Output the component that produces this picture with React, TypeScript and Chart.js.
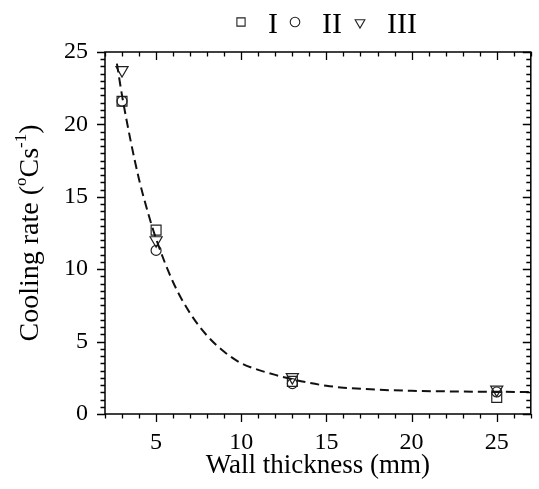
import { useEffect, useRef } from 'react';
import { Chart, registerables } from 'chart.js';

Chart.register(...registerables);

// Measured cooling rates for three castings at each wall thickness
const thicknessMm = [3, 5, 13, 25];
const rateI = [21.6, 12.7, 2.25, 1.15];
const rateII = [21.6, 11.3, 2.1, 1.52];
const rateIII = [23.75, 12.0, 2.55, 1.68];

// Fitted decay curve (dashed)
const fitThickness = [2.7, 3, 3.5, 4, 4.5, 5, 6, 7, 8, 9, 10, 11, 12, 13, 14, 15, 16, 18, 20, 23, 27];
const fitRate = [24.2, 22.0, 18.9, 16.2, 14.0, 12.1, 9.1, 6.95, 5.4, 4.3, 3.5, 3.05, 2.7, 2.4, 2.15, 1.95, 1.82, 1.68, 1.6, 1.55, 1.52];

const seriesNames = ['I', 'II', 'III'];
const xTickLabels = [5, 10, 15, 20, 25];
const yTickLabels = [0, 5, 10, 15, 20, 25];

const X_MIN = 2;
const X_MAX = 27;
const Y_MIN = 0;
const Y_MAX = 25;
const X_MINOR = 1;
const Y_MINOR = 0.5;

const SERIF = '"Liberation Serif", "Times New Roman", serif';
const MARK = '#222';

function pathMarker(ctx: CanvasRenderingContext2D, style: string, x: number, y: number, r: number) {
  ctx.beginPath();
  if (style === 'rect') {
    const s = Math.SQRT1_2 * r;
    ctx.rect(x - s, y - s, 2 * s, 2 * s);
  } else if (style === 'circle') {
    ctx.arc(x, y, r, 0, Math.PI * 2);
  } else {
    // downward triangle
    const h = r * Math.cos(Math.PI / 6);
    ctx.moveTo(x, y + r);
    ctx.lineTo(x - h, y - r / 2);
    ctx.lineTo(x + h, y - r / 2);
    ctx.closePath();
  }
  ctx.stroke();
}

const framePlugin = {
  id: 'frameTicksTitles',
  afterDraw(chart: any) {
    const { ctx, chartArea: a, scales } = chart;
    const xs = scales.x;
    const ys = scales.y;
    ctx.save();

    // plot frame
    ctx.strokeStyle = '#000';
    ctx.lineWidth = 1.5;
    ctx.strokeRect(a.left, a.top, a.right - a.left, a.bottom - a.top);

    // ticks: outward on bottom/left, inward on top/right
    ctx.lineWidth = 1.3;
    ctx.beginPath();
    const nx = Math.round((X_MAX - X_MIN) / X_MINOR);
    for (let i = 0; i <= nx; i++) {
      const v = X_MIN + i * X_MINOR;
      const px = Math.round(xs.getPixelForValue(v)) + 0.5;
      const len = v % 5 === 0 ? 8 : 4.5;
      ctx.moveTo(px, a.bottom);
      ctx.lineTo(px, a.bottom + len);
      ctx.moveTo(px, a.top);
      ctx.lineTo(px, a.top + len);
    }
    const ny = Math.round((Y_MAX - Y_MIN) / Y_MINOR);
    for (let i = 0; i <= ny; i++) {
      const v = Y_MIN + i * Y_MINOR;
      const py = Math.round(ys.getPixelForValue(v)) + 0.5;
      const len = v % 5 === 0 ? 8 : 4.5;
      ctx.moveTo(a.left - len, py);
      ctx.lineTo(a.left, py);
      ctx.moveTo(a.right - len, py);
      ctx.lineTo(a.right, py);
    }
    ctx.stroke();

    // x axis title
    ctx.fillStyle = '#000';
    ctx.font = `27px ${SERIF}`;
    ctx.textAlign = 'center';
    ctx.textBaseline = 'alphabetic';
    ctx.fillText('Wall thickness (mm)', (a.left + a.right) / 2, 473);

    // y axis title with superscripts
    const parts: [string, boolean][] = [
      ['Cooling rate (', false],
      ['o', true],
      ['Cs', false],
      ['-1', true],
      [')', false],
    ];
    const mainFont = `28px ${SERIF}`;
    const supFont = `17px ${SERIF}`;
    let total = 0;
    for (const [t, sup] of parts) {
      ctx.font = sup ? supFont : mainFont;
      total += ctx.measureText(t).width;
    }
    ctx.translate(38, (a.top + a.bottom) / 2);
    ctx.rotate(-Math.PI / 2);
    ctx.textAlign = 'left';
    let cx = -total / 2;
    for (const [t, sup] of parts) {
      ctx.font = sup ? supFont : mainFont;
      ctx.fillText(t, cx, sup ? -12 : 0);
      cx += ctx.measureText(t).width;
    }
    ctx.restore();

    // legend row
    ctx.save();
    ctx.strokeStyle = MARK;
    ctx.lineWidth = 1.1;
    ctx.fillStyle = '#000';
    ctx.font = `30px ${SERIF}`;
    ctx.textAlign = 'left';
    ctx.textBaseline = 'alphabetic';
    const styles = ['rect', 'circle', 'triangle'];
    const markX = [241, 295, 360];
    const markR = [5.8, 4.8, 5.6];
    const textX = [268, 322, 387];
    for (let i = 0; i < seriesNames.length; i++) {
      pathMarker(ctx, styles[i], markX[i], i === 2 ? 22.5 : 22, markR[i]);
      ctx.fillText(seriesNames[i], textX[i], 33);
    }
    ctx.restore();
  },
};

const toPoints = (xs: number[], ys: number[]) => xs.map((x, i) => ({ x, y: ys[i] }));

export default function App() {
  const canvasRef = useRef<HTMLCanvasElement | null>(null);

  useEffect(() => {
    const canvas = canvasRef.current;
    if (!canvas) return;
    const markerBase = {
      showLine: false,
      pointBorderColor: MARK,
      pointBackgroundColor: 'rgba(0,0,0,0)',
      pointBorderWidth: 1.2,
    };
    const chart = new Chart(canvas, {
      type: 'scatter',
      data: {
        datasets: [
          {
            label: 'fit',
            data: toPoints(fitThickness, fitRate),
            showLine: true,
            borderColor: '#111',
            borderWidth: 2,
            borderDash: [9, 5],
            pointRadius: 0,
            cubicInterpolationMode: 'monotone',
          },
          {
            ...markerBase,
            label: seriesNames[0],
            data: toPoints(thicknessMm, rateI),
            pointStyle: 'rect',
            pointRadius: 7,
          },
          {
            ...markerBase,
            label: seriesNames[1],
            data: toPoints(thicknessMm, rateII),
            pointStyle: 'circle',
            pointRadius: 5,
          },
          {
            ...markerBase,
            label: seriesNames[2],
            data: toPoints(thicknessMm, rateIII),
            pointStyle: 'triangle',
            pointRotation: 180,
            pointRadius: 7,
          },
        ] as any,
      },
      options: {
        responsive: false,
        animation: false,
        layout: { padding: { top: 52, right: 2, bottom: 0, left: 0 } },
        plugins: {
          legend: { display: false },
          tooltip: { enabled: false },
        },
        scales: {
          x: {
            type: 'linear',
            min: X_MIN,
            max: X_MAX,
            grid: { display: false },
            border: { display: false },
            afterBuildTicks: (axis: any) => {
              axis.ticks = xTickLabels.map((value) => ({ value }));
            },
            afterFit: (axis: any) => {
              axis.height = 75;
            },
            ticks: {
              autoSkip: false,
              maxRotation: 0,
              padding: 6,
              color: '#000',
              font: { family: SERIF, size: 24 },
            },
          },
          y: {
            type: 'linear',
            min: Y_MIN,
            max: Y_MAX,
            grid: { display: false },
            border: { display: false },
            afterBuildTicks: (axis: any) => {
              axis.ticks = yTickLabels.map((value) => ({ value }));
            },
            afterFit: (axis: any) => {
              axis.width = 105;
            },
            ticks: {
              autoSkip: false,
              padding: 9,
              color: '#000',
              font: { family: SERIF, size: 24 },
            },
          },
        },
      } as any,
      plugins: [framePlugin],
    });
    return () => chart.destroy();
  }, []);

  return (
    <div style={{ position: 'absolute', left: 0, top: 0, width: 539, height: 489, background: '#fff' }}>
      <canvas ref={canvasRef} width={539} height={489} style={{ display: 'block' }} />
    </div>
  );
}
